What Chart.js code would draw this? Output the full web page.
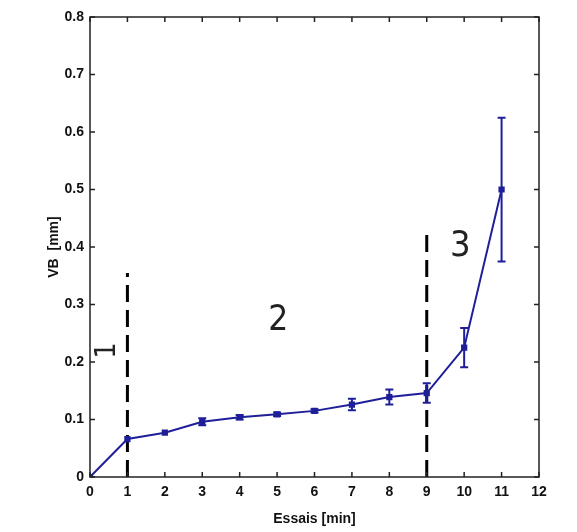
<!DOCTYPE html>
<html>
<head>
<meta charset="utf-8">
<script src="https://cdn.jsdelivr.net/npm/chart.js@4/dist/chart.umd.min.js"></script>
<style>
  html, body { margin: 0; padding: 0; background: #fff; }
  canvas { display: block; }
</style>
</head>
<body>
<canvas id="wearChart" width="577" height="532"></canvas>
<script>
// flank wear VB (mm) after each test run
const runs = [0, 1, 2, 3, 4, 5, 6, 7, 8, 9, 10, 11];
const vbMean = [0, 0.066, 0.077, 0.096, 0.104, 0.109, 0.115, 0.126, 0.139, 0.146, 0.225, 0.5];
const vbErr = [0, 0, 0, 0.006, 0.004, 0.003, 0.003, 0.01, 0.013, 0.017, 0.034, 0.125];

// dashed boundaries between wear phases
const boundaryX = [1, 9];
const boundaryTop = [0.355, 0.425];

// phase numbers
const phaseLabels = ["1", "2", "3"];
const phaseX = [0.48, 5.03, 9.9];
const phaseY = [0.22, 0.271, 0.4];
const phaseSize = [28, 35, 36];
const phaseRotate = [true, false, false];

const lineColor = "#1f1f9a";

const wearData = runs.map((r, i) => ({ x: r, y: vbMean[i] }));

const boundarySets = boundaryX.map((bx, i) => ({
  type: "line",
  data: [{ x: bx, y: 0 }, { x: bx, y: boundaryTop[i] }],
  borderColor: "#000",
  borderWidth: 3,
  borderDash: [17, 8],
  pointRadius: 0,
  fill: false,
}));

// error bars with caps
const errorBars = {
  id: "errorBars",
  afterDatasetsDraw(chart) {
    const { ctx, scales } = chart;
    ctx.save();
    ctx.strokeStyle = lineColor;
    ctx.lineWidth = 2;
    runs.forEach((r, i) => {
      if (!vbErr[i]) return;
      const px = scales.x.getPixelForValue(r);
      const top = scales.y.getPixelForValue(vbMean[i] + vbErr[i]);
      const bot = scales.y.getPixelForValue(vbMean[i] - vbErr[i]);
      ctx.beginPath();
      ctx.moveTo(px, top);
      ctx.lineTo(px, bot);
      ctx.moveTo(px - 4, top);
      ctx.lineTo(px + 4, top);
      ctx.moveTo(px - 4, bot);
      ctx.lineTo(px + 4, bot);
      ctx.stroke();
    });
    ctx.restore();
  },
};

// box around the plot with inward ticks on all four sides
const boxAxes = {
  id: "boxAxes",
  afterDraw(chart) {
    const { ctx, chartArea: a, scales } = chart;
    ctx.save();
    ctx.strokeStyle = "#222";
    ctx.lineWidth = 1.5;
    ctx.strokeRect(a.left, a.top, a.right - a.left, a.bottom - a.top);
    ctx.beginPath();
    scales.x.ticks.forEach(t => {
      const px = scales.x.getPixelForValue(t.value);
      ctx.moveTo(px, a.bottom); ctx.lineTo(px, a.bottom - 5);
      ctx.moveTo(px, a.top); ctx.lineTo(px, a.top + 5);
    });
    scales.y.ticks.forEach(t => {
      const py = scales.y.getPixelForValue(t.value);
      ctx.moveTo(a.left, py); ctx.lineTo(a.left + 5, py);
      ctx.moveTo(a.right, py); ctx.lineTo(a.right - 5, py);
    });
    ctx.stroke();
    ctx.restore();
  },
};

// phase numbers placed in data coordinates
const phaseText = {
  id: "phaseText",
  afterDatasetsDraw(chart) {
    const { ctx, scales } = chart;
    ctx.save();
    ctx.fillStyle = "#222";
    ctx.textAlign = "center";
    ctx.textBaseline = "middle";
    phaseLabels.forEach((lbl, i) => {
      const px = scales.x.getPixelForValue(phaseX[i]);
      const py = scales.y.getPixelForValue(phaseY[i]);
      ctx.font = phaseSize[i] + 'px "Liberation Sans Narrow", "DejaVu Sans Condensed", sans-serif';
      ctx.save();
      ctx.translate(px, py);
      if (phaseRotate[i]) ctx.rotate(-Math.PI / 2);
      ctx.fillText(lbl, 0, 0);
      ctx.restore();
    });
    ctx.restore();
  },
};

const tickFont = { family: '"Liberation Sans Narrow", "Liberation Sans"', size: 14, weight: "bold" };

new Chart(document.getElementById("wearChart"), {
  type: "line",
  data: {
    datasets: [
      {
        data: wearData,
        borderColor: lineColor,
        backgroundColor: lineColor,
        borderWidth: 2,
        pointStyle: "rect",
        pointRadius: 3,
        fill: false,
        tension: 0,
      },
      ...boundarySets,
    ],
  },
  options: {
    responsive: false,
    animation: false,
    layout: { padding: { top: 17, right: 38, left: 46, bottom: 0 } },
    plugins: { legend: { display: false }, tooltip: { enabled: false } },
    scales: {
      x: {
        type: "linear",
        min: 0,
        max: 12,
        grid: { display: false, drawTicks: false },
        border: { display: false },
        ticks: { stepSize: 1, color: "#111", font: tickFont, padding: 7 },
        title: { display: true, text: "Essais [min]", color: "#111", font: tickFont, padding: { top: 4 } },
        afterFit: s => { s.height = 55; },
      },
      y: {
        min: 0,
        max: 0.8,
        grid: { display: false, drawTicks: false },
        border: { display: false },
        ticks: {
          stepSize: 0.1,
          color: "#111",
          font: tickFont,
          padding: 6,
          callback: v => String(Number(v.toFixed(1))),
        },
        title: { display: true, text: "VB  [mm]", color: "#111", font: tickFont, padding: { top: 0, bottom: 2 } },
        afterFit: s => { s.width = 44; },
      },
    },
  },
  plugins: [errorBars, boxAxes, phaseText],
});
</script>
</body>
</html>
